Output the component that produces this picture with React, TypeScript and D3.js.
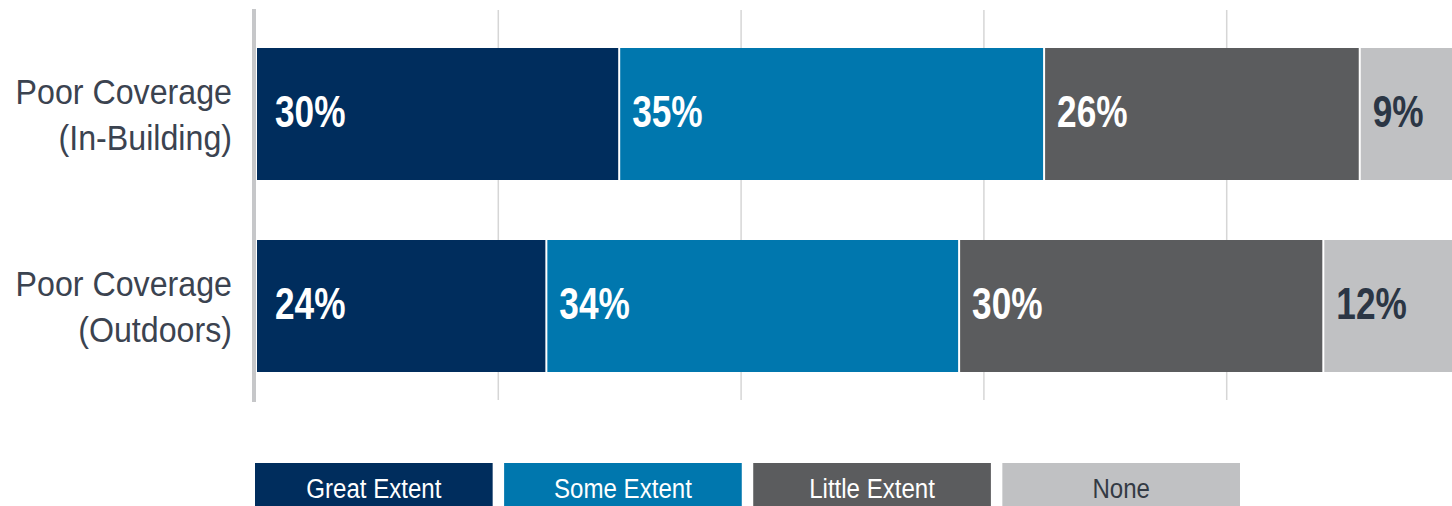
import React from "react";
import * as d3 from "d3";

const categories = ["Poor Coverage (In-Building)", "Poor Coverage (Outdoors)"];
const categoryLines = [
  ["Poor Coverage", "(In-Building)"],
  ["Poor Coverage", "(Outdoors)"],
];
const seriesNames = ["Great Extent", "Some Extent", "Little Extent", "None"];
const greatExtent = [30, 24];
const someExtent = [35, 34];
const littleExtent = [26, 30];
const noneValues = [9, 12];
const gridTicks = [0, 20, 40, 60, 80];

const colors = ["#002d5d", "#0077ae", "#5b5c5e", "#c0c1c3"];
const labelColors = ["#ffffff", "#ffffff", "#ffffff", "#2b3645"];
const legendText = ["#ffffff", "#ffffff", "#ffffff", "#333a44"];

const W = 1452;
const H = 506;
const FONT = "'Liberation Sans', Arial, sans-serif";

export default function App() {
  const x = d3.scaleLinear().domain([0, 100]).range([255, 1469]);
  const y = d3
    .scaleBand<string>()
    .domain(categories)
    .range([15, 405])
    .paddingInner(0.3125)
    .paddingOuter(0.171875);

  const rows = categories.map((c, i) => ({
    cat: c,
    vals: [greatExtent[i], someExtent[i], littleExtent[i], noneValues[i]],
  }));
  const stack = rows.map((r) => {
    let acc = 0;
    return r.vals.map((v) => {
      const s = acc;
      acc += v;
      return [s, acc, v];
    });
  });

  const legendX = d3.scaleBand<string>().domain(seriesNames).range([255, 1240]).paddingInner(0.046);

  return (
    <svg width={W} height={H} style={{ position: "absolute", left: 0, top: 0, background: "#fff" }}>
      {gridTicks.slice(1).map((t) => (
        <line key={t} x1={x(t) + 0.5} x2={x(t) + 0.5} y1={10} y2={400} stroke="#d6d6d6" strokeWidth={1.5} />
      ))}
      <line x1={254} x2={254} y1={9} y2={402} stroke="#c6c7c9" strokeWidth={4} />
      {rows.map((r, i) => {
        const by = y(r.cat)!;
        const bh = y.bandwidth();
        return (
          <g key={r.cat}>
            {stack[i].map(([s, e, v], j) => {
              const x0 = x(s) + (j === 0 ? 2 : 1);
              const x1 = x(e) - 1;
              return (
                <g key={j}>
                  <rect x={x0} y={by} width={x1 - x0} height={bh} fill={colors[j]} />
                  <text
                    transform={`translate(${x(s) + (j === 0 ? 20 : 13)},${by + bh / 2}) scale(0.8,1)`}
                    dy="0.3em"
                    fill={labelColors[j]}
                    fontFamily={FONT}
                    fontWeight="bold"
                    fontSize={44}
                  >
                    {v}%
                  </text>
                </g>
              );
            })}
            {categoryLines[i].map((ln, k) => (
              <text
                key={k}
                transform={`translate(232,${by + bh / 2 + (k === 0 ? -23 : 23)}) scale(0.92,1)`}
                dy="0.36em"
                textAnchor="end"
                fill="#3b4350"
                fontFamily={FONT}
                fontSize={35}
              >
                {ln}
              </text>
            ))}
          </g>
        );
      })}
      {seriesNames.map((n, j) => (
        <g key={n}>
          <rect x={legendX(n)!} y={463} width={legendX.bandwidth()} height={50} fill={colors[j]} />
          <text
            transform={`translate(${legendX(n)! + legendX.bandwidth() / 2},488) scale(0.86,1)`}
            dy="0.36em"
            textAnchor="middle"
            fill={legendText[j]}
            fontFamily={FONT}
            fontSize={28}
          >
            {n}
          </text>
        </g>
      ))}
    </svg>
  );
}
